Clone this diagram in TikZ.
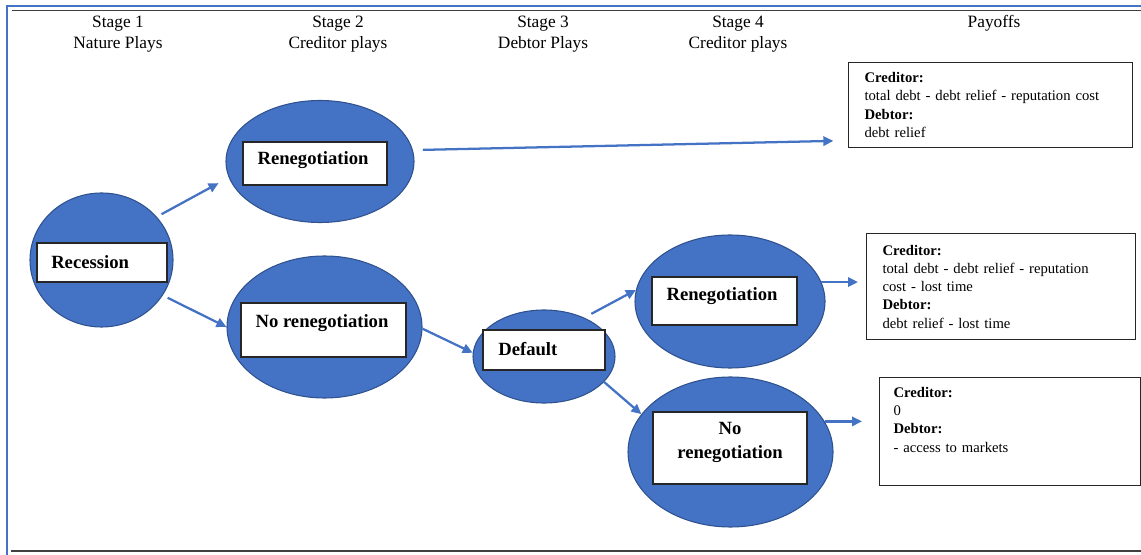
\documentclass[tikz,border=0pt]{standalone}
\usepackage{fontspec}
\setmainfont{Liberation Serif}
\usepackage{xcolor}
\usepackage{tikz}
\usetikzlibrary{shapes.geometric, arrows.meta, positioning, calc}
\definecolor{bleuNoeud}{RGB}{68, 114, 196}
\definecolor{bleuBord}{RGB}{47, 82, 143}
\definecolor{griFonce}{RGB}{64, 64, 64}

\begin{document}
\begin{tikzpicture}[x=0.75pt, y=-0.75pt,
  oval/.style 2 args={ellipse, fill=bleuNoeud, draw=bleuBord,
    line width=0.8pt, inner sep=0pt,
    minimum width=#1*0.75pt, minimum height=#2*0.75pt},
  slot/.style 2 args={rectangle, fill=white, draw=black!85,
    line width=0.9pt, inner sep=0pt,
    minimum width=#1*0.75pt, minimum height=#2*0.75pt},
  lab/.style={font=\fontsize{14}{16}\selectfont\bfseries, inner sep=0pt},
  stage/.style={font=\fontsize{13}{15.75}\selectfont, align=center},
  pay/.style={rectangle, draw=black!85, line width=0.8pt, align=left,
    font=\fontsize{11}{13.7}\selectfont, inner ysep=0pt},
  arr/.style={-{Triangle[length=7.5pt, width=7pt]}, line width=1.7pt,
    draw=bleuNoeud},
]
\useasboundingbox (0,0) rectangle (1141,555);
\draw[bleuNoeud, line width=1.5pt] (7,555) -- (7,6) -- (1141,6);
\draw[griFonce, line width=1.1pt] (12,10.5) -- (1141,10.5);
\draw[griFonce, line width=2pt] (11,551) -- (1141,551);

\node[stage] (s1) at (118,34) {Stage 1\\Nature Plays};
\node[stage] (s2) at (338,34) {Stage 2\\Creditor plays};
\node[stage] (s3) at (543,34) {Stage 3\\Debtor Plays};
\node[stage] (s4) at (738,34) {Stage 4\\Creditor plays};
\node[stage] (s5) at (994,23.5) {Payoffs};

\node[oval={143}{134}] (rec)  at (101.5,260) {};
\node[oval={188}{122}] (ren2) at (320,161.5) {};
\node[oval={195}{142}] (nr2)  at (324.5,327) {};
\node[oval={142}{93}]  (def)  at (544,356.5) {};
\node[oval={190}{133}] (ren4) at (730,301.5) {};
\node[oval={205}{150}] (nr4)  at (730.5,452) {};

\node[slot={130}{39}]  (recbox)  at (102,262.5) {};
\node[slot={144}{43}]  (ren2box) at (315,163.5) {};
\node[slot={165}{54}]  (nr2box)  at (323.5,330) {};
\node[slot={122}{40}]  (defbox)  at (544,350) {};
\node[slot={145}{48}]  (ren4box) at (724.5,301) {};
\node[slot={154}{72}]  (nr4box)  at (730,448) {};

\node[lab, anchor=west] (rectxt) at (51,262) {Recession};
\node[lab] (ren2txt) at (313,160) {Renegotiation};
\node[lab] (nr2txt)  at (322,323) {No renegotiation};
\node[lab, anchor=west] (deftxt) at (498,349) {Default};
\node[lab] (ren4txt) at (722,296) {Renegotiation};
\node[lab, align=center, font=\fontsize{14}{18.5}\selectfont\bfseries]
  (nr4txt) at (730,442.5) {No\\renegotiation};

\node[pay, anchor=north west, minimum height=85*0.75pt,
  text width=189pt, inner xsep=12pt] (pay1) at (848,62)
  {\textbf{Creditor:}\\total debt - debt relief - reputation cost\\
   \textbf{Debtor:}\\debt relief};
\node[pay, anchor=north west, minimum height=106*0.75pt,
  text width=177.75pt, inner xsep=12pt] (pay2) at (866,233)
  {\textbf{Creditor:}\\total debt - debt relief - reputation\\
   cost - lost time\\\textbf{Debtor:}\\debt relief - lost time};
\node[pay, anchor=north west, minimum height=108*0.75pt,
  text width=174.75pt, inner xsep=10.5pt] (pay3) at (879,377)
  {\textbf{Creditor:}\\0\\\textbf{Debtor:}\\- access to markets\\\strut};

\draw[arr, shorten <=4pt, shorten >=8.7pt] (rec.38) -- (ren2.190);
\draw[arr, shorten <=4pt] (rec.-30) -- (nr2.west);
\draw[arr, shorten <=7.5pt, shorten >=11pt] (ren2.7) -- (pay1.194);
\draw[arr] (nr2.-1) -- (def.177);
\draw[arr, shorten <=6pt] (def.44) -- (ren4.173);
\draw[arr] (def.-23) -- (nr4.157);
\draw[arr, shorten >=6pt] (ren4.12) -- (ren4.12 -| pay2.west);
\draw[arr, shorten >=12.75pt] (nr4.18) -- (nr4.18 -| pay3.west);
\end{tikzpicture}
\end{document}
